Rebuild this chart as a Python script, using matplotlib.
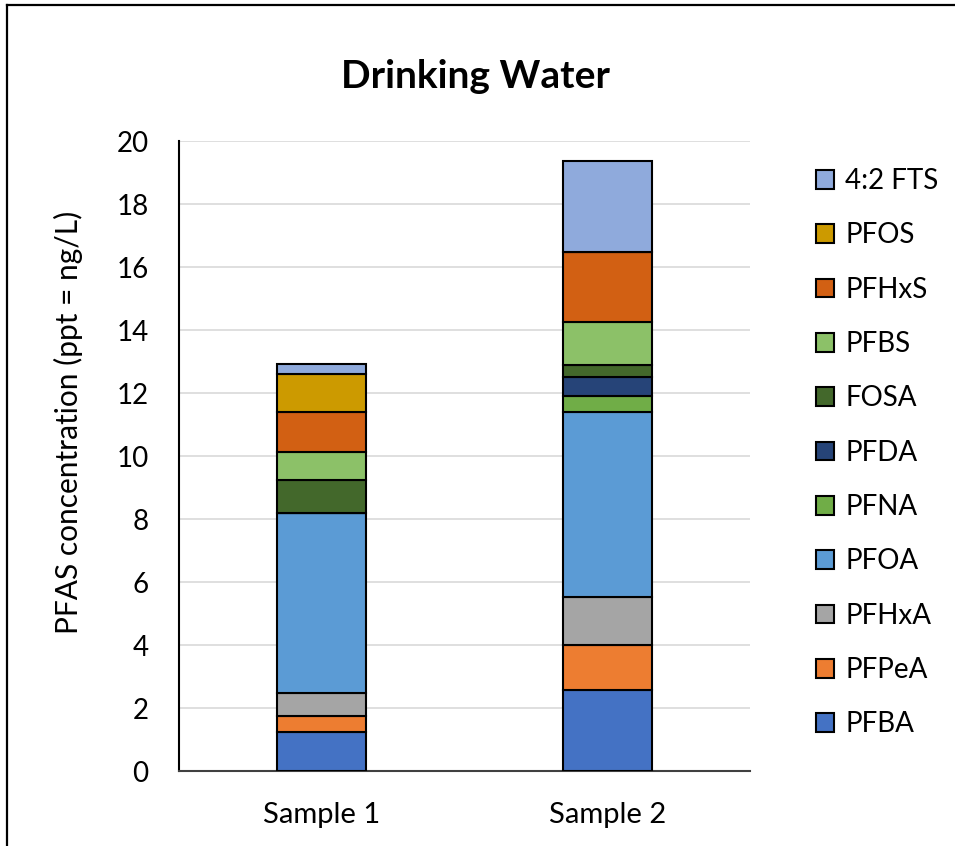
import matplotlib.pyplot as plt
import numpy as np
from matplotlib.lines import Line2D
from matplotlib.patches import Patch

plt.rcParams['font.family'] = ['Lato', 'DejaVu Sans']

samples = ['Sample 1', 'Sample 2']
compounds = ['PFBA', 'PFPeA', 'PFHxA', 'PFOA', 'PFNA', 'PFDA',
             'FOSA', 'PFBS', 'PFHxS', 'PFOS', '4:2 FTS']

# ppt, bottom to top of each stack
sample1 = [1.25, 0.50, 0.72, 5.71, 0.0, 0.0, 1.06, 0.90, 1.27, 1.19, 0.31]
sample2 = [2.58, 1.42, 1.52, 5.88, 0.50, 0.60, 0.39, 1.37, 2.21, 0.0, 2.90]

colors = ['#4472C4', '#ED7D31', '#A5A5A5', '#5B9BD5', '#70AD47', '#264478',
          '#43682B', '#8CC168', '#D26013', '#CC9A00', '#8FAADC']

W, H = 955, 846
fig = plt.figure(figsize=(W / 100, H / 100), dpi=100)
ax = fig.add_axes([179 / W, 1 - 771 / H, (750 - 179) / W, (771 - 141) / H])

x = np.arange(len(samples))
bottom = np.zeros(len(samples))
for i, name in enumerate(compounds):
    vals = np.array([sample1[i], sample2[i]])
    ax.bar(x, vals, 0.31, bottom=bottom, color=colors[i],
           edgecolor='black', linewidth=1.5, zorder=3)
    bottom += vals

ax.set_xlim(-0.5, 1.5)
ax.set_ylim(0, 20)
ax.set_yticks(np.arange(0, 21, 2))
ax.set_xticks(x)
ax.set_xticklabels(samples)
ax.tick_params(axis='y', length=0, pad=22, labelsize=20)
ax.tick_params(axis='x', length=0, pad=22, labelsize=21)
ax.yaxis.grid(True, color='#D9D9D9', linewidth=1.2, zorder=0)
ax.set_axisbelow(True)
for s in ['top', 'right']:
    ax.spines[s].set_visible(False)
ax.spines['left'].set_linewidth(1.5)
ax.spines['bottom'].set_linewidth(1.5)
ax.spines['bottom'].set_color('#404040')

fig.text(68 / W, 1 - 422 / H, 'PFAS concentration (ppt = ng/L)', rotation=90,
         ha='center', va='center', fontsize=21.5)
fig.text(475 / W, 1 - 77 / H, 'Drinking Water', ha='center', va='center',
         fontsize=28, fontweight='bold')

handles = [Patch(facecolor=c, edgecolor='black', linewidth=1.5) for c in colors]
leg = fig.legend(handles[::-1], compounds[::-1], loc='upper left',
                 bbox_to_anchor=(805 / W, 1 - 157 / H), frameon=False,
                 fontsize=20, handlelength=0.65, handleheight=0.65,
                 handletextpad=0.4, labelspacing=1.02, borderaxespad=0)

# outer chart border
fig.add_artist(Line2D([7 / W, 7 / W], [0, 1 - 5 / H], color='black', linewidth=1.6))
fig.add_artist(Line2D([7 / W, 1], [1 - 5 / H, 1 - 5 / H], color='black', linewidth=1.6))

fig.savefig('out.png', dpi=100)
